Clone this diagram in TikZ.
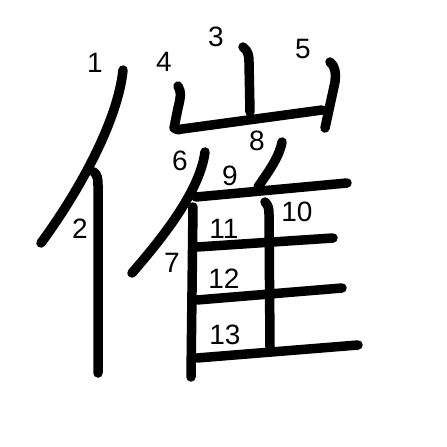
\documentclass[tikz,border=0pt]{standalone}
\usepackage{fontspec}
\setmainfont{Liberation Sans}
\begin{document}
\begin{tikzpicture}[x=1pt,y=-1pt,
  strokeline/.style={line width=9.5pt,line cap=round,line join=round,black},
  num/.style={font=\fontsize{28}{28}\selectfont,inner sep=0pt}]
\useasboundingbox[fill=white] (0,0) rectangle (447,447);
% stroke 1
\draw[strokeline] (123,70) .. controls (118,120) and (80,190) .. (41,243);
% stroke 2
\draw[strokeline] (94,172) .. controls (97,175) and (98,178) .. (98,185) -- (98,373);
% stroke 3
\draw[strokeline] (243,47) .. controls (248,51) and (249,55) .. (249,62) -- (250,112);
% stroke 4
\draw[strokeline] (178,86) .. controls (182,92) and (180,100) .. (178,108) -- (174,128) .. controls (176,130) and (178,130) .. (182,129) -- (322,110);
% stroke 5
\draw[strokeline] (330,62) .. controls (335,66) and (336,72) .. (335,82) -- (325,128);
% stroke 6
\draw[strokeline] (205,152) .. controls (200,190) and (165,235) .. (132,273);
% stroke 7
\draw[strokeline] (193,207) -- (191,377);
% stroke 8
\draw[strokeline] (282,142) .. controls (279,158) and (268,172) .. (258,187);
% stroke 9
\draw[strokeline] (196,197) -- (347,183);
% stroke 10
\draw[strokeline] (265,202) .. controls (268,205) and (269,208) .. (269,214) -- (270,347);
% stroke 11
\draw[strokeline] (197,247) -- (333,238);
% stroke 12
\draw[strokeline] (197,300) -- (342,288);
% stroke 13
\draw[strokeline] (197,358) -- (358,345);
% labels
\node[num] (n1) at (95,63) {1};
\node[num] (n2) at (80,229) {2};
\node[num] (n3) at (216,37) {3};
\node[num] (n4) at (164,62) {4};
\node[num] (n5) at (303,49) {5};
\node[num] (n6) at (180,161) {6};
\node[num] (n7) at (172,263) {7};
\node[num] (n8) at (257,141) {8};
\node[num] (n9) at (230,176) {9};
\node[num] (n10) at (297,212) {10};
\node[num] (n11) at (224,229) {11};
\node[num] (n12) at (224,279) {12};
\node[num] (n13) at (225,335) {13};
\end{tikzpicture}
\end{document}
